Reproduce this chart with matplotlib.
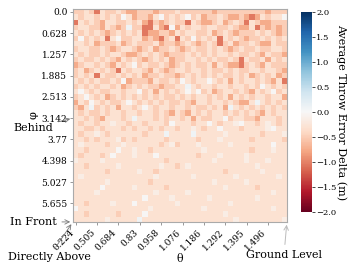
import numpy as np
import matplotlib
matplotlib.use("Agg")
import matplotlib.pyplot as plt
import seaborn as sns

plt.rcParams["font.family"] = ["DejaVu Serif"]

# rows = phi (top to bottom), cols = theta (left to right); one char per cell
LEVELS = {"b": 0.08, "0": -0.02, "a": -0.15, "1": -0.3, "2": -0.5,
          "3": -0.75, "4": -1.05, "5": -1.25}

ROWS = [
    "22124122123322232221" + "22222232222222223222",
    "12112121201322310212" + "10213221233234312110",
    "41212311221213423212" + "24123321321241233222",
    "2112231232b224413403" + "12112112212331423232",
    "12121232121214332231" + "21122132123222121232",
    "20212141022113234214" + "12021214121232212121",
    "11213222132122213223" + "21232124213221233122",
    "21122123211232132212" + "32122121232122122112",
    "12122121123321212322" + "21212121121221231223",
    "21221212312123212132" + "21121212212412213121",
    "32112123121021221232" + "12122131233421231222",
    "21321212412112312321" + "12112122121221121123",
    "21214122121213221223" + "21212121221213212132",
    "12121221203222312212" + "01211012131211212314",
    "21212112132121223221" + "1b121121121121201212",
    "10121221121102131212" + "10102132112123121021",
    "21012132121212121221" + "21211212131212112113",
    "31201212210121212122" + "12311211212331b12121",
    "231b2121311210121121" + "121221213b1212121212",
    "12122121121121121231" + "23121211212121231211",
    "11212311121b11121211" + "21312211021122311121",
    "1211211a112112111201" + "1121101211a01121a121",
    "11221211121211212112" + "11a1211011121111a011",
    "1211a121111112111b11" + "11b11111a1111112111a",
    "11212111a21211111211" + "1112111a111112111112",
    "1a1111211a11111121a2" + "111a11111a1111111011",
    "11211111011a11211111" + "1111a111111112111a11",
    "12111210111a11101111" + "1112111a1111a1111111",
    "a1111a11111111111211" + "111111a11111a111a111",
    "11211111a1111111a112" + "1a111111111111a11111",
    "111111211111a1121111" + "111111112111111a1111",
    "1a1111111111111a1111" + "11a1111111a1111111a1",
    "111111a1111111211111" + "111111a11111a1111111",
    "11111011111a11111211" + "11111111a11111211111",
    "1111a1111111111a1111" + "1a111111111111111a11",
    "111111111111101111a1" + "11111a11111111a11111",
    "1121111a11101111111a" + "111111111a1111111111",
    "01111111111111a11111" + "1111a111111111111a11",
    "11211111211110111111" + "11111111a11111111111",
    "111111a11111b1111111" + "1111111111a11111111a",
]

THETA_LABELS = ["0.224", "0.505", "0.684", "0.83", "0.958",
                "1.076", "1.186", "1.292", "1.395", "1.496"]
PHI_LABELS = ["0.0", "0.628", "1.257", "1.885", "2.513",
              "3.142", "3.77", "4.398", "5.027", "5.655"]

data = np.array([[LEVELS[ch] for ch in row] for row in ROWS])
n_phi, n_theta = data.shape

fig = plt.figure(figsize=(3.49, 2.76), dpi=100)
ax = fig.add_axes([0.209, 0.196, 0.613, 0.771])
cax = fig.add_axes([0.862, 0.232, 0.032, 0.725])

sns.heatmap(data, ax=ax, cbar_ax=cax, cmap="RdBu", vmin=-2, vmax=2,
            xticklabels=False, yticklabels=False)

step = n_theta // len(THETA_LABELS)
ax.set_xticks(np.arange(len(THETA_LABELS)) * step + 0.5)
ax.set_xticklabels(THETA_LABELS, rotation=45, ha="right", fontsize=6.5)
ax.set_yticks(np.arange(len(PHI_LABELS)) * (n_phi // len(PHI_LABELS)) + 0.5)
ax.set_yticklabels(PHI_LABELS, rotation=0, fontsize=6.5)
ax.tick_params(length=2.5, width=0.6, color="#888888", pad=1.5)
for sp in ax.spines.values():
    sp.set_visible(True)
    sp.set_color("#aaaaaa")
    sp.set_linewidth(0.8)

ax.set_xlabel("θ", fontsize=8, labelpad=1)
ax.set_ylabel("φ", fontsize=8, labelpad=2)

cb = ax.collections[0].colorbar
cb.set_ticks([-2.0, -1.5, -1.0, -0.5, 0.0, 0.5, 1.0, 1.5, 2.0])
cb.ax.tick_params(labelsize=6, length=2, width=0.5, pad=1)
cb.set_label("Average Throw Error Delta (m)", rotation=270, fontsize=8, labelpad=7)

arrow = dict(arrowstyle="->", color="#777777", lw=0.6)
ax.annotate("Behind", xy=(0, 20.5), xytext=(33 / 349, 1 - 128 / 276),
            textcoords="figure fraction", ha="center", va="center",
            fontsize=8, arrowprops=arrow, annotation_clip=False)
ax.annotate("In Front", xy=(0, n_phi), xytext=(33 / 349, 1 - 222 / 276),
            textcoords="figure fraction", ha="center", va="center",
            fontsize=8, arrowprops=arrow, annotation_clip=False)
ax.annotate("Directly Above", xy=(0, n_phi), xytext=(49 / 349, 1 - 257 / 276),
            textcoords="figure fraction", ha="center", va="center",
            fontsize=8, arrowprops=arrow, annotation_clip=False)
ax.annotate("Ground Level", xy=(n_theta, n_phi), xytext=(284 / 349, 1 - 255 / 276),
            textcoords="figure fraction", ha="center", va="center",
            fontsize=8, arrowprops=dict(arrowstyle="->", color="#bbbbbb", lw=0.7),
            annotation_clip=False)

fig.savefig("out.png", dpi=100)
